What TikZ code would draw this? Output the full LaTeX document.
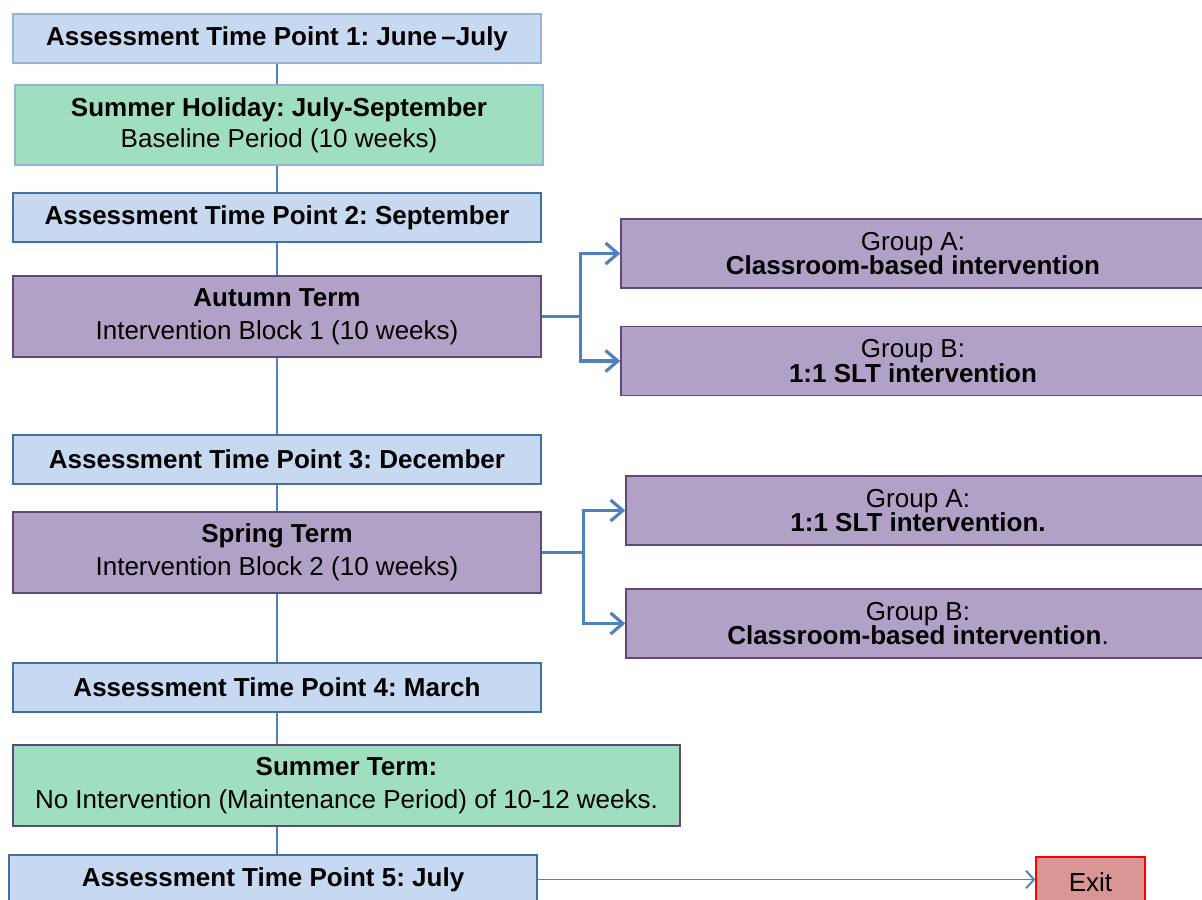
\documentclass[tikz,border=0pt]{standalone}
\usepackage{fontspec}
\setmainfont{Liberation Sans}
\usetikzlibrary{arrows.meta}
\definecolor{lblue}{HTML}{C6D9F1}
\definecolor{lborder}{HTML}{95B3D7}
\definecolor{atpborder}{HTML}{41719C}
\definecolor{mint}{HTML}{A0DEC0}
\definecolor{lilac}{HTML}{B2A1C7}
\definecolor{purpleborder}{HTML}{5F497A}
\definecolor{exitfill}{HTML}{D99694}
\definecolor{conn}{HTML}{4F81BD}
\frenchspacing
\begin{document}
\begin{tikzpicture}[x=0.02cm,y=-0.02cm,
  box/.style={draw, line width=0.9pt, inner sep=0pt, align=center, font=\fontsize{14.8}{14}\selectfont},
  atp/.style={box, fill=lblue, draw=atpborder, minimum width=10.56cm, minimum height=0.98cm, font=\bfseries\fontsize{14.8}{14}\selectfont},
  term/.style={box, fill=lilac, draw=purpleborder, minimum width=10.56cm, minimum height=1.62cm},
  grp/.style={box, fill=lilac, draw=purpleborder, minimum width=11.68cm, minimum height=1.38cm},
  vline/.style={draw=conn, line width=0.9pt},
  branch/.style={draw=conn, line width=1.8pt, -{Straight Barb[length=7pt,width=12pt,line width=1.8pt]}},
  exitarrow/.style={draw=conn, line width=1.1pt, -{Straight Barb[length=4.5pt,width=10pt]}}
]
\useasboundingbox (0,0) rectangle (1202,899);
\clip (0,0) rectangle (1202,899);

\node[atp, draw=lborder] (atp1) at (277,38.5) {Assessment Time Point 1: June\,--July};
\node[box, fill=mint, draw=lborder, minimum width=10.56cm, minimum height=1.6cm] (sh) at (279,125)
  {\textbf{Summer Holiday: July-September}\\[3.5pt]Baseline Period (10 weeks)};
\node[atp] (atp2) at (277,217.5) {Assessment Time Point 2: September};
\node[term] (aut) at (277,316.5) {\textbf{Autumn Term}\\[4.5pt]Intervention Block 1 (10 weeks)};
\node[grp] (ga1) at (913,253.5) {Group A:\\\textbf{Classroom-based intervention}};
\node[grp] (gb1) at (913,361) {Group B:\\\textbf{1:1 SLT intervention}};
\node[atp] (atp3) at (277,459.5) {Assessment Time Point 3: December};
\node[term] (spr) at (277,552.5) {\textbf{Spring Term}\\[4.5pt]Intervention Block 2 (10 weeks)};
\node[grp] (ga2) at (918,510.5) {Group A:\\\textbf{1:1 SLT intervention.}};
\node[grp] (gb2) at (918,623.5) {Group B:\\\textbf{Classroom-based intervention}.};
\node[atp] (atp4) at (277,687.5) {Assessment Time Point 4: March};
\node[box, fill=mint, draw=purpleborder, minimum width=13.34cm, minimum height=1.62cm] (st) at (346.5,785.5)
  {\textbf{Summer Term:}\\[4.5pt]No Intervention (Maintenance Period) of 10-12 weeks.};
\node[atp] (atp5) at (273,879.5) {Assessment Time Point 5: July};
\node[box, fill=exitfill, draw=red, minimum width=2.18cm, minimum height=1.0cm] (exit) at (1090.5,882) {Exit};

% vertical spine
\draw[vline] (atp1.south) -- (atp1.south |- sh.north);
\draw[vline] (atp1.south |- sh.south) -- (atp1.south |- atp2.north);
\draw[vline] (atp2.south) -- (aut.north);
\draw[vline] (aut.south) -- (atp3.north);
\draw[vline] (atp3.south) -- (spr.north);
\draw[vline] (spr.south) -- (atp4.north);
\draw[vline] (atp4.south) -- (atp4.south |- st.north);
\draw[vline] (atp4.south |- st.south) -- (atp4.south |- atp5.north);

% branches
\coordinate (b1) at ([xshift=0.78cm]aut.east);
\draw[branch] (aut.east) -- (b1) |- (ga1.west);
\draw[branch] (b1) |- (gb1.west);
\coordinate (b2) at ([xshift=0.84cm]spr.east);
\draw[branch] (spr.east) -- (b2) |- (ga2.west);
\draw[branch] (b2) |- (gb2.west);

% exit
\draw[exitarrow] (atp5.east) -- (exit.west |- atp5.east);
\end{tikzpicture}
\end{document}
